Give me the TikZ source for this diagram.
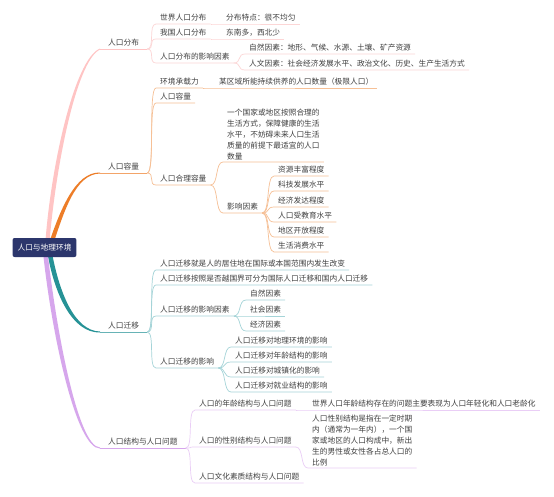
\documentclass[tikz,border=0pt]{standalone}
\usepackage{fontspec}
\setmainfont{Noto Sans CJK SC}
\definecolor{ink}{RGB}{64,64,64}
\definecolor{navy}{RGB}{44,54,108}
\definecolor{pinkA}{RGB}{255,196,196}
\definecolor{pinkB}{RGB}{252,214,214}
\definecolor{orangeA}{RGB}{237,125,40}
\definecolor{orangeB}{RGB}{246,192,150}
\definecolor{tealA}{RGB}{38,146,150}
\definecolor{tealB}{RGB}{165,212,216}
\definecolor{lilacA}{RGB}{214,166,236}
\definecolor{lilacB}{RGB}{234,206,246}
\pgfdeclarelayer{bg}
\pgfsetlayers{bg,main}
\tikzset{
  topic/.style={anchor=south west, font=\fontsize{7.7}{11}\selectfont, text=ink,
    inner xsep=4pt, inner ysep=1.5pt, text height=6.5pt, text depth=1.5pt},
  main/.style={topic, inner xsep=8pt},
  para/.style={anchor=south west, font=\fontsize{7.7}{11}\selectfont, text=ink,
    inner xsep=4pt, inner ysep=2pt, align=left},
  rootbox/.style={fill=navy, text=white, rounded corners=2pt, font=\fontsize{7.7}{11}\selectfont,
    inner xsep=5pt, inner ysep=5.5pt, text height=6.5pt, text depth=1.5pt},
  br/.style={line width=0.7pt},
  mainline/.style={line width=1pt},
}

\begin{document}
\begin{tikzpicture}[x=1pt, y=-1pt]
    \useasboundingbox (0,0) rectangle (554,496);

    \node[rootbox] (root) at (44.5,247.5) {人口与地理环境};

    % 人口分布
    \node[main] (fb) at (100,49) {人口分布};
    \node[topic] (fb1) at (156,24) {世界人口分布};
    \node[topic] (fb1a) at (222,24) {分布特点：很不均匀};
    \node[topic] (fb2) at (156,39) {我国人口分布};
    \node[topic] (fb2a) at (222,39) {东南多，西北少};
    \node[topic] (fb3) at (156,63) {人口分布的影响因素};
    \node[topic] (fb3a) at (245,54) {自然因素：地形、气候、水源、土壤、矿产资源};
    \node[topic] (fb3b) at (245,70) {人文因素：社会经济发展水平、政治文化、历史、生产生活方式};

    % 人口容量
    \node[main] (rl) at (100,173) {人口容量};
    \node[topic] (rl1) at (156,88) {环境承载力};
    \node[topic] (rl1a) at (215,88) {某区域所能持续供养的人口数量（极限人口）};
    \node[topic] (rl2) at (156,103) {人口容量};
    \node[topic] (rl3) at (156,185) {人口合理容量};
    \node[para] (rl3a) at (223,162) {一个国家或地区按照合理的\\生活方式，保障健康的生活\\水平，不妨碍未来人口生活\\质量的前提下最适宜的人口\\数量};
    \node[topic] (rl3b) at (223,213) {影响因素};
    \node[topic] (rl3b1) at (274,176) {资源丰富程度};
    \node[topic] (rl3b2) at (274,191) {科技发展水平};
    \node[topic] (rl3b3) at (274,207) {经济发达程度};
    \node[topic] (rl3b4) at (274,222) {人口受教育水平};
    \node[topic] (rl3b5) at (274,237) {地区开放程度};
    \node[topic] (rl3b6) at (274,252) {生活消费水平};

    % 人口迁移
    \node[main] (qy) at (100,332) {人口迁移};
    \node[topic] (qy1) at (156,270) {人口迁移就是人的居住地在国际或本国范围内发生改变};
    \node[topic] (qy2) at (156,285) {人口迁移按照是否越国界可分为国际人口迁移和国内人口迁移};
    \node[topic] (qy3) at (156,316) {人口迁移的影响因素};
    \node[topic] (qy3a) at (246,300) {自然因素};
    \node[topic] (qy3b) at (246,316) {社会因素};
    \node[topic] (qy3c) at (246,331) {经济因素};
    \node[topic] (qy4) at (156,368) {人口迁移的影响};
    \node[topic] (qy4a) at (231,347) {人口迁移对地理环境的影响};
    \node[topic] (qy4b) at (231,362) {人口迁移对年龄结构的影响};
    \node[topic] (qy4c) at (231,377) {人口迁移对城镇化的影响};
    \node[topic] (qy4d) at (231,392) {人口迁移对就业结构的影响};

    % 人口结构与人口问题
    \node[main] (jg) at (100,448) {人口结构与人口问题};
    \node[topic] (jg1) at (195,410) {人口的年龄结构与人口问题};
    \node[topic] (jg1a) at (308,410) {世界人口年龄结构存在的问题主要表现为人口年轻化和人口老龄化};
    \node[topic] (jg2) at (195,447) {人口的性别结构与人口问题};
    \node[para] (jg2a) at (308,468) {人口性别结构是指在一定时期\\内（通常为一年内），一个国\\家或地区的人口构成中，新出\\生的男性或女性各占总人口的\\比例};
    \node[topic] (jg3) at (195,483) {人口文化素质结构与人口问题};

    % underlines of the main topics
    \draw[mainline, pinkA] (fb.south west) -- (fb.south east);
    \draw[mainline, orangeA!70] (rl.south west) -- (rl.south east);
    \draw[mainline, tealA!70] (qy.south west) -- (qy.south east);
    \draw[mainline, lilacA] (jg.south west) -- (jg.south east);

    % branches
    \foreach \p/\c in {fb/fb1, fb/fb2, fb/fb3, fb1/fb1a, fb2/fb2a, fb3/fb3a, fb3/fb3b}
        \draw[br, pinkB] (\p.south east) .. controls +(8,0) and +(-8,0) .. (\c.south west) -- (\c.south east);
    \foreach \p/\c in {rl/rl1, rl/rl2, rl/rl3, rl1/rl1a, rl3/rl3a, rl3/rl3b,
                       rl3b/rl3b1, rl3b/rl3b2, rl3b/rl3b3, rl3b/rl3b4, rl3b/rl3b5, rl3b/rl3b6}
        \draw[br, orangeB] (\p.south east) .. controls +(8,0) and +(-8,0) .. (\c.south west) -- (\c.south east);
    \foreach \p/\c in {qy/qy1, qy/qy2, qy/qy3, qy/qy4, qy3/qy3a, qy3/qy3b, qy3/qy3c,
                       qy4/qy4a, qy4/qy4b, qy4/qy4c, qy4/qy4d}
        \draw[br, tealB] (\p.south east) .. controls +(8,0) and +(-8,0) .. (\c.south west) -- (\c.south east);
    \foreach \p/\c in {jg/jg1, jg/jg2, jg/jg3, jg1/jg1a, jg2/jg2a}
        \draw[br, lilacB] (\p.south east) .. controls +(8,0) and +(-8,0) .. (\c.south west) -- (\c.south east);

    \begin{pgfonlayer}{bg}
    \fill[white] (0,0) rectangle (554,496);
    % thick tapered main branches
    \fill[pinkA] ([xshift=0.5pt]root.center) .. controls (50,170) and (74,59) .. ([yshift=0.5pt]fb.south west)
        -- ([yshift=-0.5pt]fb.south west) .. controls (76,61) and (55,170) .. ([xshift=4.5pt]root.center) -- cycle;
    \fill[orangeA] ([xshift=3pt]root.center) .. controls (60,210) and (75,172) .. ([yshift=0.5pt]rl.south west)
        -- ([yshift=-0.5pt]rl.south west) .. controls (75,174) and (64,212) .. ([xshift=7.5pt]root.center) -- cycle;
    \fill[tealA] ([xshift=2pt]root.center) .. controls (54,296) and (73,333) .. ([yshift=-0.5pt]qy.south west)
        -- ([yshift=0.5pt]qy.south west) .. controls (75,331) and (59,294) .. ([xshift=6.5pt]root.center) -- cycle;
    \fill[lilacA] ([xshift=-2pt]root.center) .. controls (51,332) and (76,449) .. ([yshift=-0.5pt]jg.south west)
        -- ([yshift=0.5pt]jg.south west) .. controls (78,447) and (56,330) .. ([xshift=2.5pt]root.center) -- cycle;
    \end{pgfonlayer}
\end{tikzpicture}
\end{document}
